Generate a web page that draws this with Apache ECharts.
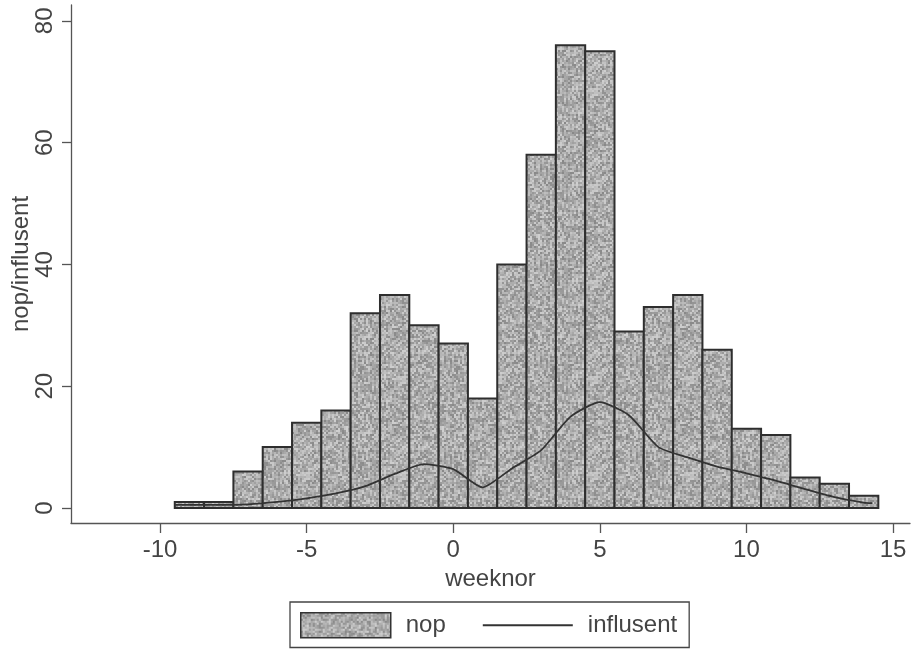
<!DOCTYPE html>
<html>
<head>
<meta charset="utf-8">
<script src="https://cdn.jsdelivr.net/npm/echarts@6/dist/echarts.min.js"></script>
<style>html,body{margin:0;padding:0;background:#fff;}#chart{width:913px;height:649px;}</style>
</head>
<body>
<div id="chart"></div>
<script>
// ---- data ----
var weeks = [-9,-8,-7,-6,-5,-4,-3,-2,-1,0,1,2,3,4,5,6,7,8,9,10,11,12,13,14];
var nop   = [1,1,6,10,14,16,32,35,30,27,18,40,58,76,75,29,33,35,26,13,12,5,4,2];
var binWidth = 1;
var influsentWeeks = [-9.5,-9,-8,-7,-6,-5,-4,-3,-2,-1,0,1,2,3,4,5,6,7,8,9,10,11,12,13,14,14.3];
var influsent      = [0.5,0.5,0.5,0.6,1.0,1.6,2.4,3.6,5.6,7.2,6.4,3.4,6.5,9.5,15.0,17.4,15.2,10.0,8.3,6.8,5.7,4.5,3.1,1.8,0.9,0.8];
var xTicks = [-10,-5,0,5,10,15];
var yTicks = [0,20,40,60,80];

// ---- stipple texture (deterministic hash, style only) ----
function makePattern() {
  var c = document.createElement('canvas');
  c.width = 96; c.height = 96;
  var ctx = c.getContext('2d');
  for (var j = 0; j < 48; j++) {
    for (var i = 0; i < 48; i++) {
      var h = (i * 374761393 + j * 668265263) >>> 0;
      h = Math.imul(h ^ (h >>> 13), 1274126177) >>> 0;
      h = (h ^ (h >>> 16)) >>> 0;
      var v = 136 + (h % 72);
      ctx.fillStyle = 'rgb(' + v + ',' + v + ',' + v + ')';
      ctx.fillRect(i * 2, j * 2, 2, 2);
    }
  }
  return c;
}
var pattern = { image: makePattern(), repeat: 'repeat' };

var histData = weeks.map(function (w, i) { return [w, nop[i]]; });
var lineData = influsentWeeks.map(function (w, i) { return [w, influsent[i]]; });

var chart = echarts.init(document.getElementById('chart'), null, { renderer: 'canvas' });
var font = 'Liberation Sans, Arial, sans-serif';
chart.setOption({
  animation: false,
  backgroundColor: '#ffffff',
  grid: { left: 71, right: 3, top: 5, bottom: 126, containLabel: false, outerBoundsMode: 'none' },
  xAxis: {
    type: 'value', min: -13.04, max: 15.58,
    name: 'weeknor', nameLocation: 'middle', nameGap: 44, nameMoveOverlap: false,
    nameTextStyle: { fontSize: 24, color: '#444', fontFamily: font },
    axisLine: { show: true, onZero: false, lineStyle: { color: '#555', width: 1.3 } },
    axisTick: { show: true, length: 10, customValues: xTicks, lineStyle: { color: '#555', width: 1.3 } },
    axisLabel: { customValues: xTicks, fontSize: 24, color: '#444', fontFamily: font, margin: 15 },
    splitLine: { show: false }
  },
  yAxis: {
    type: 'value', min: -2.46, max: 82.6,
    name: 'nop/influsent', nameLocation: 'middle', nameGap: 38, nameMoveOverlap: false,
    nameTextStyle: { fontSize: 24, color: '#444', fontFamily: font },
    axisLine: { show: true, onZero: false, lineStyle: { color: '#555', width: 1.3 } },
    axisTick: { show: true, length: 9, customValues: yTicks, lineStyle: { color: '#555', width: 1.3 } },
    axisLabel: { customValues: yTicks, rotate: 90, fontSize: 24, color: '#444', fontFamily: font, margin: 14 },
    splitLine: { show: false }
  },
  legend: {
    left: 290, top: 602,
    orient: 'horizontal',
    padding: [10, 12, 9, 10],
    itemGap: 36,
    itemWidth: 90, itemHeight: 25,
    borderColor: '#444', borderWidth: 1.3,
    textStyle: { fontSize: 24, color: '#444', fontFamily: font, padding: [0, 0, 0, 10] },
    data: [
      { name: 'nop', icon: 'rect', itemStyle: { color: pattern, borderColor: '#333', borderWidth: 1.5 } },
      { name: 'influsent', itemStyle: { opacity: 0 } }
    ]
  },
  series: [
    {
      name: 'nop', type: 'custom',
      itemStyle: { color: '#a8a8a8' },
      encode: { x: 0, y: 1 },
      data: histData,
      renderItem: function (params, api) {
        var x = api.value(0), y = api.value(1);
        var p0 = api.coord([x - binWidth / 2, y]);
        var p1 = api.coord([x + binWidth / 2, 0]);
        return {
          type: 'rect',
          shape: { x: p0[0], y: p0[1], width: p1[0] - p0[0], height: p1[1] - p0[1] },
          style: { fill: pattern, stroke: '#2e2e2e', lineWidth: 2 }
        };
      }
    },
    {
      name: 'influsent', type: 'line',
      data: lineData,
      symbol: 'none', showSymbol: false,
      smooth: 0.2,
      lineStyle: { color: '#333', width: 1.8 },
      itemStyle: { color: '#333' },
      z: 5
    }
  ]
});
</script>
</body>
</html>
